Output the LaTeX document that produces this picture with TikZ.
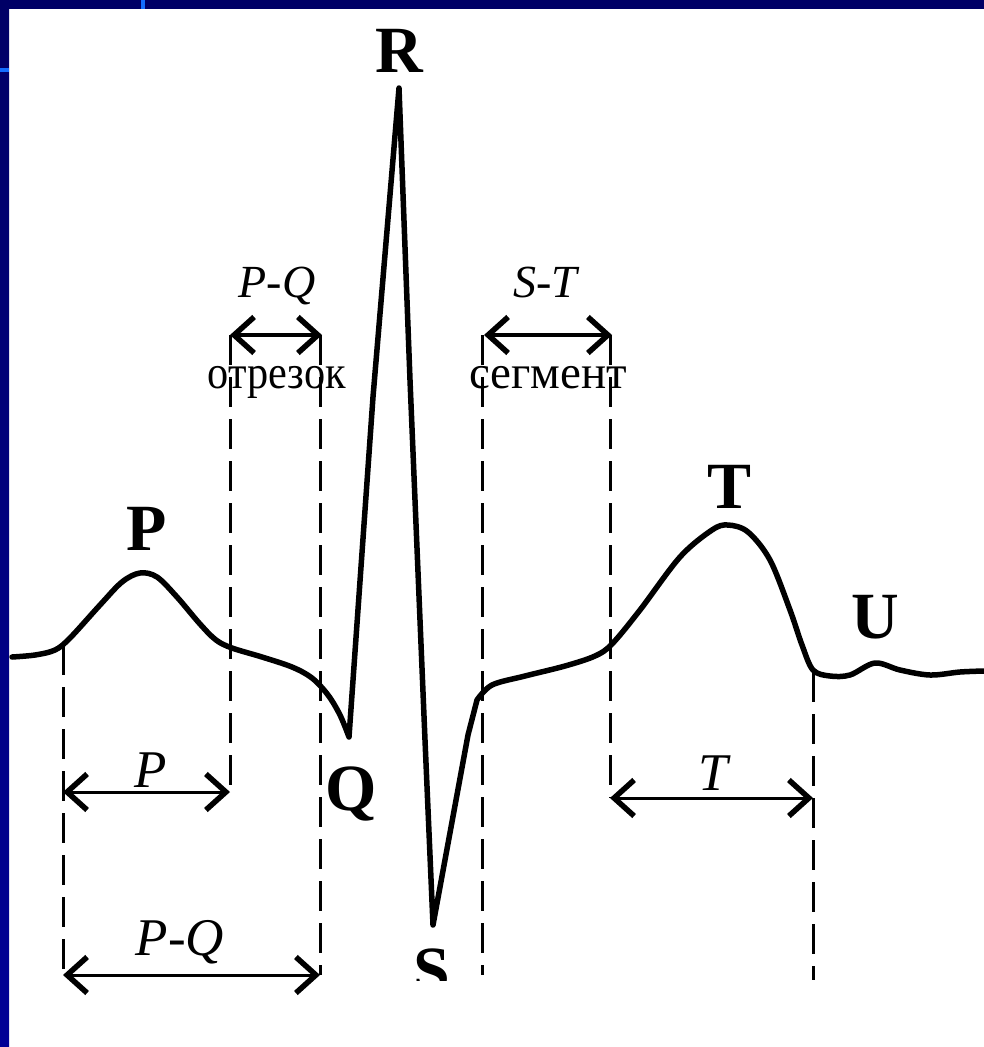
\documentclass[tikz,border=0pt]{standalone}
\usepackage{fontspec}
\usepackage{graphicx}
\setmainfont{Liberation Serif}
\usetikzlibrary{arrows.meta}
\definecolor{navy}{RGB}{0,0,102}
\definecolor{navylow}{RGB}{0,0,150}
\definecolor{markblue}{RGB}{20,110,255}
\begin{document}
\begin{tikzpicture}[x=1pt,y=-1pt,
  trace/.style={line width=5.5pt, line join=round, line cap=round},
  guide/.style={line width=3pt, dash pattern=on 30pt off 12pt},
  barb/.tip={Straight Barb[length=20pt,width=36pt,line width=5.5pt]},
  dimthin/.style={line width=3pt, barb-barb},
  dimthick/.style={line width=4.5pt, barb-barb},
  wave/.style={font=\bfseries\fontsize{66}{66}\selectfont, inner sep=0pt, anchor=base},
  ilab/.style={font=\itshape\fontsize{53}{53}\selectfont, inner sep=0pt, anchor=base},
  itop/.style={font=\itshape\fontsize{46}{46}\selectfont, inner sep=0pt, anchor=base},
  ru/.style={font=\fontsize{47}{47}\selectfont, inner sep=0pt, anchor=base}
]
\useasboundingbox (0,0) rectangle (984,1047);
\fill[white] (0,0) rectangle (984,1047);
% frame bands
\fill[navy] (0,0) rectangle (984,9);
\shade[top color=navy, bottom color=navylow] (0,0) rectangle (9,1047);
\fill[markblue] (141,0) rectangle (145,9);
\fill[markblue] (0,68) rectangle (9,72);

% ECG trace
\draw[trace] plot[smooth, tension=0.55] coordinates {
  (12,657) (35,655) (55,650) (70,638) (100,605) (122,582) (140,573)
  (157,577) (177,597) (200,624) (216,640) (232,648) (262,657) (292,667)
  (312,678) (328,695) (340,715) (349,737)}
  -- (373,397) -- (399,88) -- (410,380) -- (425,740) -- (433,925)
  -- (468,735) -- (477,700)
  plot[smooth, tension=0.55] coordinates {
  (477,700) (492,685) (525,676) (565,666) (595,656) (612,644)
  (640,610) (680,557) (712,530) (728,525) (748,532) (770,560) (790,610)
  (802,645) (813,670) (830,676) (850,675) (875,663) (900,670) (930,675) (960,672) (984,671)};

% guide lines
\coordinate (g1t) at (63,645);  \coordinate (g1b) at (63,975);
\coordinate (g2t) at (230,335); \coordinate (g2b) at (230,792);
\coordinate (g3t) at (320,335); \coordinate (g3b) at (320,975);
\coordinate (g4t) at (482,335); \coordinate (g4b) at (482,975);
\coordinate (g5t) at (610,335); \coordinate (g5b) at (610,798);
\coordinate (g6t) at (813,672); \coordinate (g6b) at (813,980);
\foreach \g in {1,...,6} \draw[guide] (g\g t) -- (g\g b);

% dimension arrows
\coordinate (pqa) at (230,335); \coordinate (pqb) at (322,335);
\coordinate (sta) at (484,335); \coordinate (stb) at (612,335);
\coordinate (pa) at (63,792);   \coordinate (pb) at (230,792);
\coordinate (pqla) at (63,975); \coordinate (pqlb) at (320,975);
\coordinate (ta) at (610,798);  \coordinate (tb) at (813,798);
\draw[dimthick] (pqa) -- (pqb);
\draw[dimthick] (sta) -- (stb);
\draw[dimthin] (pa) -- (pb);
\draw[dimthin] (pqla) -- (pqlb);
\draw[dimthin] (ta) -- (tb);

% labels
\node[itop] (lpq) at (277,297) {P-Q};
\node[itop] (lst) at (545,297) {S-T};
\node[ru] (otr) at (277,388) {\scalebox{0.9}[1]{отрезок}};
\node[ru] (seg) at (548,388) {сегмент};
\node[ilab] (lp) at (151,787) {P};
\node[ilab] (lpq2) at (180,955) {P-Q};
\node[ilab] (lt) at (713,790) {T};

\node[wave] (R) at (399,72) {R};
\node[wave] (P) at (147,550) {P};
\node[wave] (Q) at (351,810) {Q};
\node[wave] (T) at (730,508) {T};
\node[wave] (U) at (875,638) {U};
\begin{scope}
  \clip (380,900) rectangle (480,980);
  \node[wave] (S) at (432,992) {S};
\end{scope}
\end{tikzpicture}
\end{document}
